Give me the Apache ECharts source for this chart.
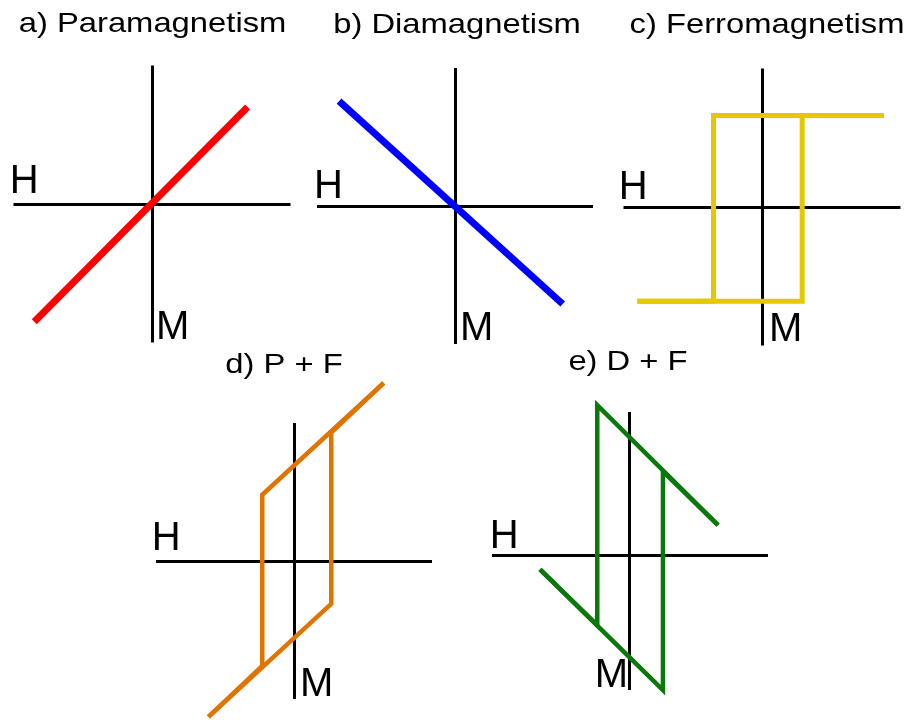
<!DOCTYPE html>
<html>
<head>
<meta charset="utf-8">
<script src="https://cdn.jsdelivr.net/npm/echarts@6/dist/echarts.min.js"></script>
<style>
  html, body { margin: 0; padding: 0; background: #ffffff; }
  #chart { width: 908px; height: 720px; }
</style>
</head>
<body>
<div id="chart"></div>
<script>
// Schematic M(H) curves, in reduced units (axes cross at H = 0, M = 0).

// a) Paramagnetism: straight line with positive slope
const paraH = [-0.85, 0.69];
const paraM = [-0.85, 0.70];

// b) Diamagnetism: straight line with negative slope
const diaH = [-0.84, 0.78];
const diaM = [0.76, -0.71];

// c) Ferromagnetism: square hysteresis loop (ascending and descending branches)
const ferroUpH = [-0.90, 0.29, 0.29, 0.88];
const ferroUpM = [-0.68, -0.68, 0.66, 0.66];
const ferroDownH = [0.88, -0.35, -0.35, -0.90];
const ferroDownM = [0.66, 0.66, -0.68, -0.68];

// d) Paramagnetic + ferromagnetic contribution
const pfUpH = [-0.62, 0.27, 0.27, 0.65];
const pfUpM = [-1.13, -0.31, 0.93, 1.29];
const pfDownH = [0.65, -0.23, -0.23, -0.62];
const pfDownM = [1.29, 0.48, -0.76, -1.13];

// e) Diamagnetic + ferromagnetic contribution
const dfUpH = [-0.645, 0.246, 0.246, 0.645];
const dfUpM = [-0.10, -0.975, 0.61, 0.22];
const dfDownH = [0.645, -0.23, -0.23, -0.645];
const dfDownM = [0.22, 1.09, -0.505, -0.10];

// Panel titles and axis names
const titles = ['a) Paramagnetism', 'b) Diamagnetism', 'c) Ferromagnetism', 'd) P + F', 'e) D + F'];
const hName = 'H';
const mName = 'M';

const zip = (xs, ys) => xs.map((x, i) => [x, ys[i]]);

// Curves for each panel (each entry is one branch drawn as a polyline)
const curves = [
  [zip(paraH, paraM)],
  [zip(diaH, diaM)],
  [zip(ferroUpH, ferroUpM), zip(ferroDownH, ferroDownM)],
  [zip(pfUpH, pfUpM), zip(pfDownH, pfDownM)],
  [zip(dfUpH, dfUpM), zip(dfDownH, dfDownM)]
];

// Panel geometry: axis crossing (cx, cy), pixels per unit, axis extents, label placement
const panels = [
  { cx: 152, cy: 204,   s: 138.5, h: [-1, 1],      m: [-1, 1],      color: '#ff0000', width: 7,
    title: [152.5, 24.5], hOff: [-3.7, -22], mOff: [4, -15] },
  { cx: 455, cy: 206,   s: 138,   h: [-1, 1],      m: [-1, 1],      color: '#0000ff', width: 7,
    title: [457, 25],     hOff: [-3, -19],   mOff: [5, -15] },
  { cx: 762, cy: 207,   s: 138.5, h: [-1, 1],      m: [-1, 1],      color: '#e6c800', width: 5,
    title: [767, 25],     hOff: [-4.7, -19], mOff: [7, -15.5] },
  { cx: 294, cy: 561,   s: 138,   h: [-1, 1],      m: [-1, 1],      color: '#e07400', width: 4.5,
    title: [284, 365],    hOff: [-4.2, -22.5], mOff: [6, -14] },
  { cx: 629, cy: 555.5, s: 138,   h: [-0.993, 1.007], m: [-0.975, 1.04], color: '#0a780a', width: 4.5,
    title: [628, 362],    hOff: [-2.2, -19], mOff: [-34.3, -14.5] }
];

const FONT = '"Liberation Sans", Arial, sans-serif';

const grid = [], xAxis = [], yAxis = [], series = [], graphic = [];

panels.forEach((p, i) => {
  grid.push({
    left: p.cx + p.h[0] * p.s,
    top: p.cy - p.m[1] * p.s,
    width: (p.h[1] - p.h[0]) * p.s,
    height: (p.m[1] - p.m[0]) * p.s,
    containLabel: false
  });
  const axisCommon = {
    type: 'value',
    gridIndex: i,
    axisLine: { show: true, onZero: true, lineStyle: { color: '#000000', width: 3, cap: 'butt' } },
    axisTick: { show: false },
    axisLabel: { show: false },
    splitLine: { show: false }
  };
  xAxis.push(Object.assign({}, axisCommon, { min: p.h[0], max: p.h[1] }));
  yAxis.push(Object.assign({}, axisCommon, { min: p.m[0], max: p.m[1] }));

  curves[i].forEach(branch => {
    series.push({
      type: 'line',
      xAxisIndex: i,
      yAxisIndex: i,
      data: branch,
      showSymbol: false,
      symbol: 'none',
      clip: false,
      silent: true,
      animation: false,
      lineStyle: { color: p.color, width: p.width, cap: 'butt', join: 'miter' },
      z: 3
    });
  });

  // Axis names placed at the left end of H and the lower end of M
  series.push({
    type: 'scatter',
    xAxisIndex: i,
    yAxisIndex: i,
    symbolSize: 0.001,
    silent: true,
    animation: false,
    clip: false,
    itemStyle: { opacity: 1, color: '#000000' },
    data: [
      { value: [p.h[0], 0], label: { formatter: hName, offset: p.hOff } },
      { value: [0, p.m[0]], label: { formatter: mName, offset: p.mOff } }
    ],
    label: {
      show: true,
      position: 'inside',
      align: 'left',
      verticalAlign: 'middle',
      fontSize: 40,
      lineHeight: 40,
      fontFamily: FONT,
      color: '#000000',
      opacity: 1,
      textBorderWidth: 0
    },
    z: 4
  });

  graphic.push({
    type: 'text',
    x: p.title[0],
    y: p.title[1],
    scaleX: 1.17,
    scaleY: 1,
    silent: true,
    style: {
      text: titles[i],
      font: '28px ' + FONT,
      fill: '#000000',
      textAlign: 'center',
      textVerticalAlign: 'middle'
    }
  });
});

const chart = echarts.init(document.getElementById('chart'), null, { renderer: 'canvas' });
chart.setOption({
  backgroundColor: '#ffffff',
  animation: false,
  grid, xAxis, yAxis, series, graphic
});
</script>
</body>
</html>
